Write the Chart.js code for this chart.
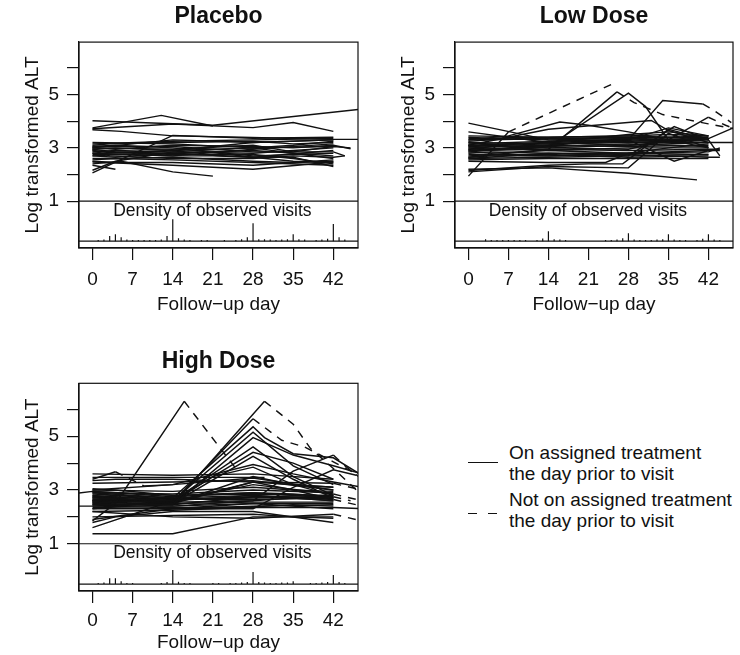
<!DOCTYPE html>
<html><head><meta charset="utf-8">
<script src="https://cdn.jsdelivr.net/npm/chart.js@4.4.0/dist/chart.umd.min.js"></script>
<style>
html,body{margin:0;padding:0;background:#fff;overflow:hidden;}
#wrap{position:relative;width:740px;height:655px;background:#fff;}
canvas{position:absolute;}
.leg{position:absolute;font-family:"Liberation Sans",Arial,Helvetica,sans-serif;font-size:19px;color:#111;line-height:21px;white-space:nowrap;}
.ln{position:absolute;height:0;border-top:1.4px solid #111;}
</style></head><body>
<div id="wrap">
<canvas id="c1" width="364" height="320" style="left:0;top:0;width:364px;height:320px"></canvas>
<canvas id="c2" width="364" height="320" style="left:376px;top:0;width:364px;height:320px"></canvas>
<canvas id="c3" width="364" height="313" style="left:0;top:342px;width:364px;height:313px"></canvas>
<div class="ln" style="left:468px;top:462px;width:30px"></div>
<div class="leg" style="left:509px;top:442px">On assigned treatment<br>the day prior to visit</div>
<div class="ln" style="left:468px;top:513px;width:9px"></div>
<div class="ln" style="left:488px;top:513px;width:9px"></div>
<div class="leg" style="left:509px;top:489px">Not on assigned treatment<br>the day prior to visit</div>
</div>
<script>
// ---------- axis / label data ----------
const panelTitles = ["Placebo", "Low Dose", "High Dose"];
const xTickValues = [0, 7, 14, 21, 28, 35, 42];
const yTickValues = [1, 2, 3, 4, 5, 6];
const yLabelled = [1, 3, 5];
const xLabel = "Follow\u2212up day";
const yLabel = "Log transformed ALT";
const densityLabel = "Density of observed visits";
const densityTop = 1;      // separator line level
const densityBase = -0.5;  // density baseline level
const xRange = [-2.35, 46.3];
const yRange = [-0.757, 6.97];

// ---------- subject trajectories: [day, log ALT, offTreatment(1)] ----------
const placeboSubjects = [
 [[0,4.02],[21,3.85],[49,4.5]],
 [[0,3.75],[12,4.22],[21,3.82]],
 [[0,3.72],[14,3.9],[28,3.76],[35,3.95],[42,3.62]],
 [[0,3.68],[5,3.62],[14,3.45],[26,3.4],[42,3.32],[49,3.32]],
 [[0,2.06],[14,3.47],[28,3.36],[42,3.4]],
 [[0,2.16],[4,2.5],[14,2.85],[28,3.0],[42,3.05]],
 [[0,2.35],[4,2.2]],
 [[0,2.4],[5,2.5],[14,2.1],[21,1.94]],
 [[0,2.47],[14,2.35],[28,2.2],[42,2.47]],
 [[0,3.05],[4,3.1],[14,3.0],[28,2.65],[35,2.65],[42,2.3]],
 [[0,2.9],[3,2.85],[14,2.75],[28,2.75],[35,2.6],[42,2.4]],
 [[0,3.0],[4,2.95],[14,3.1],[28,3.05],[35,3.0],[42,3.1],[45,2.97]],
 [[0,2.8],[14,2.7],[21,2.7],[28,2.65],[42,2.9]],
 [[0,2.95],[4,3.0],[14,2.9],[28,3.2],[42,3.3]],
 [[0,3.1],[3,3.15],[14,3.2],[28,3.25],[35,3.15],[42,3.2]],
 [[0,2.7],[4,2.65],[14,2.8],[28,2.9],[42,2.7]],
 [[0,2.6],[5,2.6],[14,2.65],[28,2.5],[35,2.45],[42,2.55]],
 [[0,3.0],[14,2.95],[28,3.1],[35,2.85],[42,2.85],[44,2.7]],
 [[0,2.85],[4,2.9],[14,2.85],[28,2.8],[35,2.9],[42,3.0]],
 [[0,2.75],[14,2.8],[21,2.85],[28,2.7],[42,2.8]],
 [[0,3.15],[14,3.25],[28,3.3],[42,3.35]],
 [[0,2.55],[4,2.6],[14,2.55],[28,2.45],[42,2.35]],
 [[0,2.9],[3,2.7],[14,2.6],[28,2.6],[35,2.7],[42,2.65],[44,2.7]],
 [[0,3.05],[14,3.05],[28,2.85],[35,2.85],[42,3.05],[45,3.0]],
 [[0,2.7],[5,2.75],[14,2.7],[28,2.95],[42,3.15]],
 [[0,2.95],[4,2.85],[14,2.8],[28,2.65],[35,2.5],[42,2.45]],
 [[0,2.5],[4,2.45],[14,2.45],[28,2.35],[35,2.45],[42,2.5]],
 [[0,3.2],[14,3.15],[28,3.0],[35,3.1],[42,3.25]],
 [[0,2.8],[14,2.9],[28,3.0],[35,2.8],[42,2.6]],
 [[0,3.0],[14,3.3],[28,3.2],[42,3.3]]
];
const lowDoseSubjects = [
 [[0,1.94],[7,3.6],[25,5.38,1]],
 [[0,2.65],[14,2.95],[26,5.1],[29,4.7,1],[34,4.25,1],[42,3.9,1],[47,3.7,1]],
 [[0,2.85],[14,3.05],[28,5.05],[31,4.55],[35,3.3],[42,3.35]],
 [[0,3.0],[14,3.1],[21,3.25],[28,3.3],[34,4.78],[41,4.65],[43,4.4,1],[46,3.95,1]],
 [[0,3.1],[14,3.0],[28,2.95],[35,3.3],[42,4.15],[45,3.85,1],[48,3.6,1]],
 [[0,3.93],[14,3.3],[28,3.2],[42,3.2]],
 [[0,3.3],[7,3.45],[16,3.97],[21,3.85],[28,3.6],[42,3.0]],
 [[0,3.1],[14,3.7],[32,4.03],[35,3.65],[42,3.2]],
 [[0,2.2],[14,2.25],[28,2.05],[40,1.8]],
 [[0,2.15],[14,2.35],[21,2.4],[27,2.4],[35,3.7],[42,3.3]],
 [[0,2.1],[14,2.3],[28,2.25],[35,3.55],[42,3.0]],
 [[0,3.05],[14,3.2],[28,3.3],[36,2.5],[42,2.9],[44,2.9]],
 [[0,2.6],[14,2.8],[28,2.7],[36,3.8],[42,3.3],[44,2.7]],
 [[0,3.1],[14,3.2],[28,3.1],[42,3.2],[48,3.2]],
 [[0,3.4],[4,3.35],[14,3.3],[28,3.35],[42,3.4]],
 [[0,3.35],[14,3.4],[28,3.45],[42,3.35]],
 [[0,3.25],[4,3.3],[14,3.35],[28,3.4],[35,3.4],[42,3.45]],
 [[0,3.2],[14,3.15],[28,3.2],[42,3.3]],
 [[0,3.0],[4,2.95],[14,3.05],[28,3.15],[35,3.1],[42,3.05]],
 [[0,2.9],[14,2.95],[28,2.9],[42,2.95],[44,2.95]],
 [[0,2.8],[4,2.85],[14,2.8],[28,2.8],[42,2.75]],
 [[0,2.75],[14,2.7],[28,2.75],[35,2.7],[42,2.65],[44,2.65]],
 [[0,2.7],[4,2.75],[14,2.75],[28,2.65],[42,2.7]],
 [[0,2.6],[14,2.65],[28,2.7],[42,2.75]],
 [[0,2.55],[14,2.6],[28,2.6],[42,2.6]],
 [[0,2.95],[4,3.05],[14,3.1],[28,3.05],[42,3.1]],
 [[0,3.15],[14,3.25],[28,3.3],[35,3.25],[42,3.2]],
 [[0,3.3],[14,3.35],[21,3.35],[28,3.3],[42,3.35]],
 [[0,2.85],[4,2.8],[14,2.9],[28,3.0],[42,3.0]],
 [[0,3.45],[14,3.4],[28,3.45],[35,3.5],[42,3.45]],
 [[0,2.65],[4,2.7],[14,2.7],[28,2.8],[42,2.85],[44,3.0]],
 [[0,3.05],[14,3.15],[28,3.25],[42,3.3]],
 [[0,2.5],[14,2.45],[24,2.45],[28,2.8],[35,3.0],[42,3.15]],
 [[0,3.6],[14,3.2],[28,3.5],[35,3.6],[42,3.45]],
 [[0,3.2],[14,2.9],[28,2.8],[42,2.9]],
 [[0,2.9],[14,3.1],[28,3.3],[35,3.75],[42,3.45]],
 [[0,2.95],[14,3.0],[28,3.1],[42,3.35],[48,3.9]]
];
const highDoseSubjects = [
 [[0,1.85],[4,2.5],[16,6.3],[25,3.8,1]],
 [[0,2.45],[14,2.45],[30,6.3],[35,5.45,1],[38,4.55,1],[42,3.8,1],[46,3.0,1]],
 [[0,2.6],[14,2.55],[28,5.65],[33,4.85,1],[37,4.6,1],[42,4.05,1],[46,3.6,1]],
 [[0,2.9],[14,2.7],[28,5.35],[30,4.95],[35,4.35],[42,4.2],[47,3.55]],
 [[0,2.7],[14,2.6],[28,5.15],[35,3.9],[42,3.2]],
 [[0,2.3],[14,2.6],[28,4.6],[35,3.5],[42,2.8]],
 [[0,2.8],[14,2.5],[28,4.25],[35,3.4],[42,2.7]],
 [[0,3.0],[14,3.2],[28,3.95],[35,3.6],[42,3.3],[47,3.1]],
 [[0,2.5],[14,2.4],[28,2.6],[35,3.7],[42,4.3],[44,3.9,1],[47,3.4,1]],
 [[0,3.4],[4,3.68],[9,3.15,1],[14,3.2],[28,3.45],[42,3.0]],
 [[0,1.37],[14,1.37],[28,2.0],[42,2.0]],
 [[-4,2.85],[0,2.95],[14,2.8],[28,2.9],[42,2.7]],
 [[-4,2.4],[0,2.4],[14,2.35],[28,2.35],[42,2.35],[48,2.3]],
 [[0,3.6],[14,3.55],[28,3.6],[42,3.4]],
 [[0,3.47],[14,3.47],[30,3.47]],
 [[0,1.6],[14,2.6],[28,2.8],[42,2.6]],
 [[0,1.79],[4,2.0],[14,2.2],[28,2.2],[42,1.79]],
 [[0,2.2],[14,2.0],[28,1.95],[42,2.1],[46,1.9,1]],
 [[0,2.0],[14,2.05],[28,2.1],[35,2.0],[42,1.95]],
 [[0,2.55],[14,2.45],[28,4.95],[35,4.3],[42,3.9],[47,3.6]],
 [[0,2.65],[14,2.6],[28,4.4],[35,4.0],[42,3.4]],
 [[0,2.75],[14,2.55],[21,3.5],[28,3.85],[35,3.2],[42,2.8]],
 [[0,3.05],[4,3.0],[14,2.8],[28,2.85],[42,2.8]],
 [[0,2.95],[4,2.9],[14,2.75],[28,2.9],[35,2.85],[42,2.75]],
 [[0,2.85],[14,2.7],[28,2.8],[42,2.65]],
 [[0,2.75],[4,2.8],[14,2.65],[28,2.75],[42,2.7]],
 [[0,2.65],[14,2.55],[28,2.6],[35,2.7],[42,2.6]],
 [[0,2.55],[4,2.6],[14,2.5],[28,2.55],[42,2.55]],
 [[0,2.5],[14,2.45],[28,2.75],[42,2.8]],
 [[0,2.45],[4,2.4],[14,2.4],[28,2.5],[42,2.5]],
 [[0,2.35],[14,2.3],[28,2.4],[42,2.45]],
 [[0,2.9],[14,2.85],[28,3.0],[42,2.9]],
 [[0,3.0],[14,2.95],[28,3.1],[35,3.0],[42,2.95]],
 [[0,2.7],[4,2.75],[14,2.65],[28,2.7],[42,2.75],[45,2.6,1]],
 [[0,2.6],[14,2.55],[28,3.3],[35,3.0],[42,2.65],[46,2.45,1]],
 [[0,2.8],[14,2.6],[28,3.2],[42,2.85],[46,2.65,1]],
 [[0,3.25],[14,3.3],[28,3.35],[42,3.0]],
 [[0,3.35],[4,3.4],[14,3.4],[28,3.3],[42,3.1]],
 [[0,2.2],[14,2.25],[21,2.3],[35,2.45],[42,2.4]],
 [[0,1.9],[14,2.3],[28,2.5],[42,2.3]],
 [[0,2.6],[14,2.7],[21,2.65],[28,2.65],[42,2.7]],
 [[0,2.4],[14,2.5],[28,3.3],[42,3.25],[46,3.05,1]],
 [[0,2.3],[14,2.3],[28,2.3],[35,3.1],[42,3.75],[46,3.55]],
 [[0,2.55],[14,2.5],[28,3.5],[35,3.2],[42,3.1]]
];

// ---------- density of observed visits (day, spike height in axis units) ----------
const placeboDensityDays =    [1,2,3,4,5,6,7,8,9,10,11,12,13,14,15,16,17,19,20,23,25,26,27,28,29,30,31,32,33,34,35,36,37,39,40,41,42,43,44];
const placeboDensityHeights = [.04,.06,.19,.26,.15,.06,.04,.04,.04,.04,.04,.06,.19,.82,.11,.06,.04,.04,.04,.04,.04,.075,.15,.67,.075,.075,.06,.04,.06,.075,.26,.075,.06,.04,.06,.09,.64,.15,.06];
const lowDensityDays =    [3,4,5,6,7,8,9,10,12,13,14,15,16,17,24,25,26,27,28,29,30,31,32,33,34,35,36,37,38,40,41,42,43,44];
const lowDensityHeights = [.075,.04,.04,.04,.04,.04,.04,.04,.04,.1,.37,.075,.06,.04,.04,.04,.06,.11,.3,.06,.04,.04,.04,.06,.075,.26,.06,.04,.04,.04,.09,.26,.06,.04];
const highDensityDays =    [1,2,3,4,5,6,7,12,13,14,15,16,17,21,22,24,25,26,27,28,29,30,31,32,33,34,35,38,39,40,41,42,43,44];
const highDensityHeights = [.04,.06,.22,.22,.11,.04,.04,.04,.075,.52,.09,.04,.04,.04,.04,.04,.04,.06,.075,.45,.075,.06,.04,.04,.06,.06,.11,.04,.04,.06,.075,.34,.075,.04];

// ---------- drawing ----------
const FONT = '"Liberation Sans", Arial, Helvetica, sans-serif';
const INK = '#111';
const DASH = [8, 7];

const framePlugin = {
  id: 'frame',
  afterDatasetsDraw(chart) {
    const {ctx, chartArea: a} = chart;
    ctx.save();
    ctx.strokeStyle = INK; ctx.lineWidth = 1.2;
    ctx.strokeRect(a.left, a.top, a.right - a.left, a.bottom - a.top);
    const x = chart.scales.x, y = chart.scales.y;
    ctx.fillStyle = INK;
    ctx.font = '17.5px ' + FONT;
    ctx.textAlign = 'center'; ctx.textBaseline = 'middle';
    ctx.fillText(densityLabel, x.getPixelForValue(20.9), y.getPixelForValue(0.64));
    ctx.restore();
  }
};

function makePanel(id, title, subjects, dDays, dHeights, lay) {
  const datasets = [];
  subjects.forEach(s => {
    datasets.push({
      data: s.map(p => ({x: p[0], y: p[1]})),
      showLine: true, borderColor: INK, borderWidth: 1.45, pointRadius: 0,
      pointHoverRadius: 0, fill: false, tension: 0,
      segment: { borderDash: ctx => (s[ctx.p1DataIndex][2] ? DASH : undefined) }
    });
  });
  const dens = [];
  dDays.forEach((d, i) => {
    dens.push({x: d, y: densityBase}, {x: d, y: densityBase + dHeights[i]}, {x: d, y: null});
  });
  datasets.push({data: dens, showLine: true, spanGaps: false, borderColor: INK, borderWidth: 1.2, pointRadius: 0});
  [densityTop, densityBase].forEach(level => {
    datasets.push({data: [{x: xRange[0], y: level}, {x: xRange[1], y: level}], showLine: true,
      borderColor: INK, borderWidth: 1.2, pointRadius: 0});
  });
  const canvas = document.getElementById(id);
  const H = canvas.height;
  new Chart(canvas, {
    type: 'scatter',
    data: {datasets},
    options: {
      responsive: false, animation: false, events: [],
      layout: {padding: {left: 0, right: lay.right, top: 0, bottom: 0}},
      plugins: {
        legend: {display: false}, tooltip: {enabled: false},
        title: {display: true, text: title, fullSize: false, color: '#111',
          font: {family: FONT, size: 23, weight: 'bold'},
          padding: {top: lay.tTop, bottom: lay.tBot}}
      },
      scales: {
        x: {
          type: 'linear', min: xRange[0], max: xRange[1],
          afterBuildTicks: sc => { sc.ticks = xTickValues.map(v => ({value: v})); },
          afterFit: sc => { sc.height = H - lay.boxBottom; },
          grid: {drawOnChartArea: false, drawTicks: true, tickLength: 12, color: INK, lineWidth: 1.2},
          border: {display: true, color: INK, width: 1.2},
          ticks: {color: '#111', font: {family: FONT, size: 19}, padding: lay.xPad, maxRotation: 0, autoSkip: false},
          title: {display: true, text: xLabel, color: '#111', font: {family: FONT, size: 19},
            padding: {top: 0, bottom: lay.xTitleBot}}
        },
        y: {
          type: 'linear', min: yRange[0], max: yRange[1],
          afterBuildTicks: sc => { sc.ticks = yTickValues.map(v => ({value: v})); },
          afterFit: sc => { sc.width = 79; },
          grid: {drawOnChartArea: false, drawTicks: true, tickLength: 12, color: INK, lineWidth: 1.2},
          border: {display: true, color: INK, width: 1.2},
          ticks: {color: '#111', font: {family: FONT, size: 19}, padding: 8, autoSkip: false,
            callback: v => (yLabelled.includes(v) ? String(v) : '')},
          title: {display: true, text: yLabel, color: '#111', font: {family: FONT, size: 19},
            padding: {top: lay.yTitleTop, bottom: 0}}
        }
      }
    },
    plugins: [framePlugin]
  });
}

makePanel('c1', panelTitles[0], placeboSubjects, placeboDensityDays, placeboDensityHeights,
  {right: 6, tTop: 2.5, tBot: 12, boxBottom: 248, xPad: 8, xTitleBot: 3.6, yTitleTop: 21.5});
makePanel('c2', panelTitles[1], lowDoseSubjects, lowDensityDays, lowDensityHeights,
  {right: 7, tTop: 2.5, tBot: 12, boxBottom: 248, xPad: 8, xTitleBot: 3.6, yTitleTop: 21.5});
makePanel('c3', panelTitles[2], highDoseSubjects, highDensityDays, highDensityHeights,
  {right: 6, tTop: 6, tBot: 7.7, boxBottom: 249, xPad: 6, xTitleBot: 1, yTitleTop: 21.5});
</script>
</body></html>
